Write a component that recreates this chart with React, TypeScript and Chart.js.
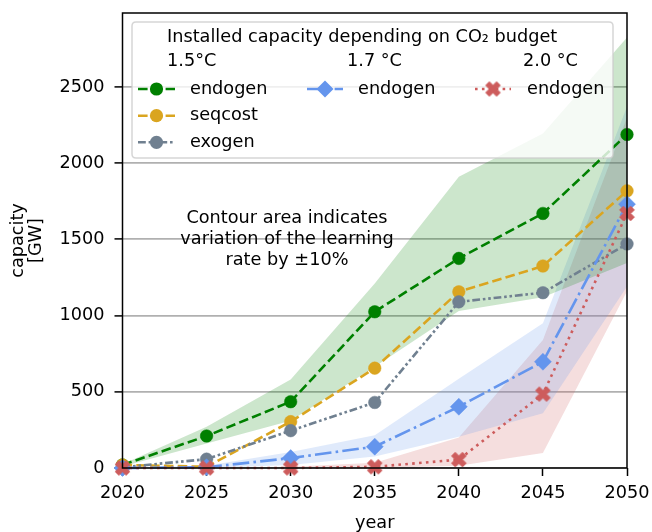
import React, { useEffect, useRef } from 'react';
import { Chart, registerables } from 'chart.js';

Chart.register(...registerables);

// ---------- data ----------
const years = [2020, 2025, 2030, 2035, 2040, 2045, 2050];
const endogen15 = [20, 210, 435, 1025, 1375, 1670, 2188];
const seqcost15 = [20, 8, 304, 655, 1156, 1325, 1818];
const exogen15 = [5, 58, 245, 430, 1090, 1150, 1470];
const endogen17 = [0, 5, 65, 140, 402, 697, 1731];
const endogen20 = [0, 0, 0, 8, 55, 485, 1670];

const band15Low = [10, 160, 310, 665, 1030, 1120, 1345];
const band15High = [25, 270, 580, 1210, 1910, 2195, 2825];
const band17Low = [0, 0, 20, 75, 205, 360, 1190];
const band17High = [0, 15, 105, 215, 585, 950, 2370];
const band20Low = [0, 0, 0, 0, 15, 98, 1160];
const band20High = [0, 0, 8, 35, 200, 840, 2300];

const xTicks = [2020, 2025, 2030, 2035, 2040, 2045, 2050];
const yTicks = [0, 500, 1000, 1500, 2000, 2500];

const legendTitle = 'Installed capacity depending on CO\u2082 budget';
const legendHeaders = ['1.5\u00B0C', '1.7 \u00B0C', '2.0 \u00B0C'];
const legendCol1 = ['endogen', 'seqcost', 'exogen'];
const legendCol2 = ['endogen'];
const legendCol3 = ['endogen'];
const noteLines = ['Contour area indicates', 'variation of the learning', 'rate by \u00B110%'];

// ---------- styles ----------
const FONT = 'DejaVu Sans';
const FS = 17.7;
const GREEN = '#008000';
const ORANGE = '#DAA520';
const GRAY = '#708090';
const BLUE = '#6495ED';
const RED = '#CD5C5C';
const LW = 2.6;
const DASH = [9.6, 4.2];
const DASHDOT = [16.6, 4.2, 2.6, 4.2];
const DASHDOTDOT = [7.8, 2.8, 2.6, 2.8, 2.6, 2.8];
const DOT = [2.6, 4.3];

function makeXMarker(color: string, size: number): HTMLCanvasElement {
  const c = document.createElement('canvas');
  const S = Math.ceil(size + 4);
  c.width = S;
  c.height = S;
  const ctx = c.getContext('2d')!;
  const p = [[-1, -2], [0, -1], [1, -2], [2, -1], [1, 0], [2, 1], [1, 2], [0, 1], [-1, 2], [-2, 1], [-1, 0], [-2, -1]];
  ctx.translate(S / 2, S / 2);
  ctx.beginPath();
  p.forEach(([px, py], i) => {
    const X = (px / 4) * size;
    const Y = (py / 4) * size;
    if (i === 0) ctx.moveTo(X, Y);
    else ctx.lineTo(X, Y);
  });
  ctx.closePath();
  ctx.fillStyle = color;
  ctx.fill();
  ctx.lineWidth = 1;
  ctx.strokeStyle = color;
  ctx.stroke();
  return c;
}

const pts = (arr: number[]) => years.map((x, i) => ({ x, y: arr[i] }));

function drawHandle(ctx: CanvasRenderingContext2D, x0: number, x1: number, y: number, color: string, dash: number[], marker: string, img?: HTMLCanvasElement) {
  ctx.save();
  ctx.strokeStyle = color;
  ctx.lineWidth = LW;
  ctx.setLineDash(dash);
  ctx.lineCap = 'butt';
  ctx.beginPath();
  ctx.moveTo(x0, y);
  ctx.lineTo(x1, y);
  ctx.stroke();
  ctx.setLineDash([]);
  const cx = (x0 + x1) / 2;
  ctx.fillStyle = color;
  if (marker === 'circle') {
    ctx.beginPath();
    ctx.arc(cx, y, 6.6, 0, Math.PI * 2);
    ctx.fill();
  } else if (marker === 'diamond') {
    const r = 8.5;
    ctx.beginPath();
    ctx.moveTo(cx - r, y);
    ctx.lineTo(cx, y - r);
    ctx.lineTo(cx + r, y);
    ctx.lineTo(cx, y + r);
    ctx.closePath();
    ctx.fill();
  } else if (marker === 'x' && img) {
    ctx.drawImage(img, cx - img.width / 2, y - img.height / 2);
  }
  ctx.restore();
}

const zeroPad = (s: any) => {
  s.paddingTop = 0;
  s.paddingBottom = 0;
  s.paddingLeft = 0;
  s.paddingRight = 0;
};

export default function App() {
  const ref = useRef<HTMLCanvasElement | null>(null);

  useEffect(() => {
    if (!ref.current) return;
    const xImg = makeXMarker(RED, 14.5);
    const font = { family: FONT, size: FS };

    const overlay = {
      id: 'overlay',
      afterDatasetsDraw(chart: any) {
        const ctx: CanvasRenderingContext2D = chart.ctx;
        const a = chart.chartArea;
        ctx.save();
        ctx.strokeStyle = '#000';
        ctx.lineWidth = 1.5;
        ctx.strokeRect(a.left, a.top, a.right - a.left, a.bottom - a.top);

        ctx.fillStyle = '#000';
        ctx.font = `${FS}px "${FONT}"`;
        ctx.textAlign = 'center';
        ctx.textBaseline = 'middle';
        noteLines.forEach((t, i) => ctx.fillText(t, 287, 218 + i * 21));

        const bx = 132, by = 22, bw = 613 - 132, bh = 158 - 22, r = 4;
        ctx.beginPath();
        ctx.moveTo(bx + r, by);
        ctx.lineTo(bx + bw - r, by);
        ctx.quadraticCurveTo(bx + bw, by, bx + bw, by + r);
        ctx.lineTo(bx + bw, by + bh - r);
        ctx.quadraticCurveTo(bx + bw, by + bh, bx + bw - r, by + bh);
        ctx.lineTo(bx + r, by + bh);
        ctx.quadraticCurveTo(bx, by + bh, bx, by + bh - r);
        ctx.lineTo(bx, by + r);
        ctx.quadraticCurveTo(bx, by, bx + r, by);
        ctx.closePath();
        ctx.fillStyle = 'rgba(255,255,255,0.8)';
        ctx.fill();
        ctx.strokeStyle = 'rgba(204,204,204,0.8)';
        ctx.lineWidth = 1.5;
        ctx.stroke();

        ctx.fillStyle = '#000';
        ctx.textAlign = 'left';
        ctx.textBaseline = 'middle';
        ctx.fillText(legendTitle, 167, 37);
        const colX = [167, 347, 523];
        legendHeaders.forEach((h, i) => ctx.fillText(h, colX[i], 61));

        const rows = [89, 115.7, 142.3];
        const c1 = [
          { color: GREEN, dash: DASH },
          { color: ORANGE, dash: DASH },
          { color: GRAY, dash: DASHDOTDOT },
        ];
        legendCol1.forEach((t, i) => {
          drawHandle(ctx, 138, 175, rows[i], c1[i].color, c1[i].dash, 'circle');
          ctx.fillStyle = '#000';
          ctx.fillText(t, 190, rows[i]);
        });
        legendCol2.forEach((t, i) => {
          drawHandle(ctx, 307, 343, rows[i], BLUE, DASHDOT, 'diamond');
          ctx.fillStyle = '#000';
          ctx.fillText(t, 358, rows[i]);
        });
        legendCol3.forEach((t, i) => {
          drawHandle(ctx, 475, 511, rows[i], RED, DOT, 'x', xImg);
          ctx.fillStyle = '#000';
          ctx.fillText(t, 527, rows[i]);
        });
        ctx.restore();
      },
    };

    const band = (data: number[], fill: any, color: string) => ({
      data: pts(data),
      borderWidth: 0,
      borderColor: 'rgba(0,0,0,0)',
      backgroundColor: color,
      pointRadius: 0,
      fill,
      order: 10,
      tension: 0,
    });

    const line = (data: number[], color: string, dash: number[], style: any, radius: number, order: number) => ({
      data: pts(data),
      borderColor: color,
      borderWidth: LW,
      borderDash: dash,
      backgroundColor: color,
      pointBackgroundColor: color,
      pointBorderColor: color,
      pointBorderWidth: 0.5,
      pointStyle: style,
      pointRadius: radius,
      fill: false,
      order,
      clip: false,
      tension: 0,
    });

    const chart = new Chart(ref.current, {
      type: 'line',
      data: {
        datasets: [
          band(band15Low, false, 'rgba(0,128,0,0.2)'),
          band(band15High, '-1', 'rgba(0,128,0,0.2)'),
          band(band17Low, false, 'rgba(100,149,237,0.2)'),
          band(band17High, '-1', 'rgba(100,149,237,0.2)'),
          band(band20Low, false, 'rgba(205,92,92,0.2)'),
          band(band20High, '-1', 'rgba(205,92,92,0.2)'),
          line(endogen15, GREEN, DASH, 'circle', 6.3, 5),
          line(seqcost15, ORANGE, DASH, 'circle', 6.3, 4),
          line(exogen15, GRAY, DASHDOTDOT, 'circle', 6.3, 3),
          line(endogen17, BLUE, DASHDOT, 'rectRot', 8.5, 2),
          line(endogen20, RED, DOT, xImg, 7, 1),
        ] as any,
      },
      options: {
        responsive: false,
        animation: false,
        devicePixelRatio: 1,
        layout: { padding: { left: 0, right: 25, top: 13, bottom: 0 } },
        plugins: {
          legend: { display: false },
          tooltip: { enabled: false },
          title: { display: false },
          filler: { drawTime: 'beforeDatasetsDraw' },
        } as any,
        scales: {
          x: {
            type: 'linear',
            min: 2020,
            max: 2050,
            afterBuildTicks: (s: any) => {
              s.ticks = xTicks.map((v) => ({ value: v }));
            },
            ticks: {
              font,
              color: '#000',
              padding: 7,
              maxRotation: 0,
              autoSkip: false,
              callback: (v: any) => String(v),
            },
            grid: {
              drawOnChartArea: false,
              drawTicks: true,
              tickLength: 8,
              tickColor: '#000',
              tickWidth: 1.5,
            },
            border: { display: false },
            title: {
              display: true,
              text: 'year',
              font,
              color: '#000',
              padding: { top: 0, bottom: -2 },
            },
            afterFit: (s: any) => {
              s.height = 532 - 468;
              zeroPad(s);
            },
          },
          y: {
            type: 'linear',
            min: 0,
            max: 2985,
            afterBuildTicks: (s: any) => {
              s.ticks = yTicks.map((v) => ({ value: v }));
            },
            ticks: {
              font,
              color: '#000',
              padding: 10,
              autoSkip: false,
              callback: (v: any) => String(v),
            },
            grid: {
              color: '#b0b0b0',
              lineWidth: 1.8,
              drawTicks: true,
              tickLength: 8,
              tickColor: '#000',
              tickWidth: 1.5,
            },
            border: { display: false },
            title: {
              display: true,
              text: ['capacity', '[GW]'],
              font: { family: FONT, size: FS, lineHeight: 1.05 },
              color: '#000',
              padding: { top: 9, bottom: 0 },
            },
            afterFit: (s: any) => {
              s.width = 122.5;
              zeroPad(s);
            },
          },
        } as any,
      },
      plugins: [overlay],
    });

    return () => chart.destroy();
  }, []);

  return (
    <div style={{ position: 'fixed', left: 0, top: 0, width: 652, height: 532 }}>
      <canvas ref={ref} width={652} height={532} style={{ display: 'block', width: 652, height: 532 }} />
    </div>
  );
}
